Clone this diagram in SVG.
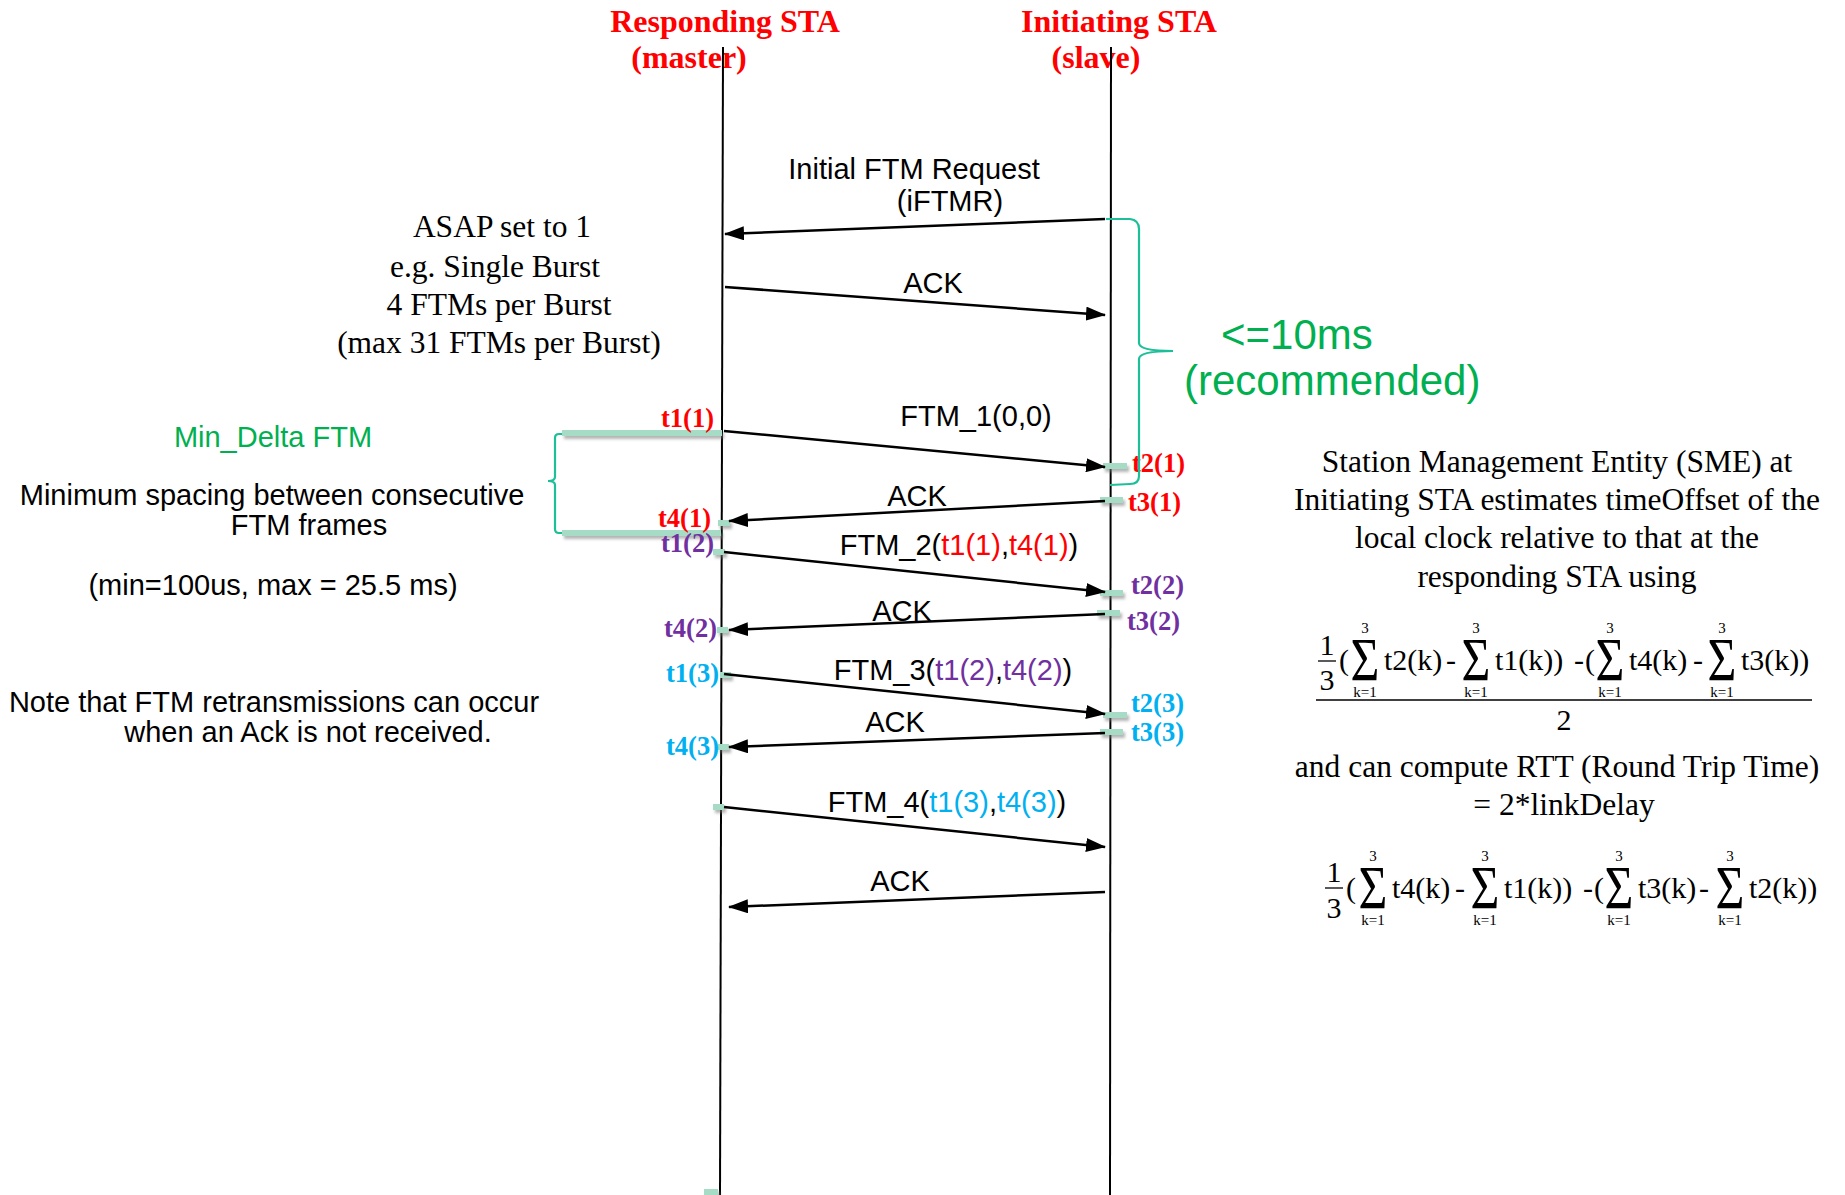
<svg xmlns="http://www.w3.org/2000/svg" width="1845" height="1195" viewBox="0 0 1845 1195">
<defs>
  <marker id="ah" markerUnits="userSpaceOnUse" markerWidth="20" markerHeight="14" refX="19" refY="7" orient="auto">
    <path d="M0,0 L20,7 L0,14 z" fill="#000"/>
  </marker>
  <filter id="sh" filterUnits="userSpaceOnUse" x="0" y="0" width="1845" height="1195">
    <feDropShadow dx="2" dy="3" stdDeviation="1.6" flood-color="#777" flood-opacity="0.55"/>
  </filter>
</defs>
<style>
  .life{stroke:#000;stroke-width:2;fill:none}
  .msg{stroke:#000;stroke-width:2.5;fill:none;marker-end:url(#ah)}
  .lbl{font-family:"Liberation Sans",Arial,sans-serif;font-size:29px;fill:#000}
  .title{font-family:"Liberation Serif","Times New Roman",serif;font-weight:bold;font-size:32px;fill:#FF0000}
  .ts{font-family:"Liberation Serif","Times New Roman",serif;font-weight:bold;font-size:26.5px}
  .ser{font-family:"Liberation Serif","Times New Roman",serif;font-size:31.5px;fill:#000}
  .fm{font-family:"Liberation Serif","DejaVu Serif",serif;font-size:30px;fill:#000}
  .sig{font-family:"Liberation Serif","DejaVu Serif",serif;font-size:62px;fill:#000;text-anchor:middle}
  .sm{font-family:"Liberation Serif","DejaVu Serif",serif;font-size:15px;fill:#000;text-anchor:middle}
  .mark{stroke:#A6DCC6;stroke-width:6;fill:none;filter:url(#sh)}
  .brace{stroke:#1DBF98;stroke-width:2.2;fill:none}
  .grn{fill:#00B050}
  .red{fill:#FF0000}
  .pur{fill:#7030A0}
  .blu{fill:#00B0F0}
  .mid{text-anchor:middle}
  .end{text-anchor:end}
</style>

<g id="responding-sta">
  <text class="title mid" x="725" y="32">Responding STA</text>
  <text class="title mid" x="689" y="68">(master)</text>
  <line class="life" x1="723" y1="47" x2="720" y2="1195"/>
</g>
<g id="initiating-sta">
  <text class="title mid" x="1119" y="32">Initiating STA</text>
  <text class="title mid" x="1096" y="68">(slave)</text>
  <line class="life" x1="1111" y1="47" x2="1110" y2="1195"/>
</g>

<g id="timestamp-marks">
  <line class="mark" x1="562" y1="433" x2="722" y2="433"/>
  <line class="mark" x1="562" y1="533" x2="721" y2="533"/>
  <line class="mark" x1="718" y1="523" x2="730" y2="523"/>
  <line class="mark" x1="713" y1="552" x2="725" y2="552"/>
  <line class="mark" x1="717" y1="630" x2="728" y2="630"/>
  <line class="mark" x1="720" y1="675" x2="731" y2="675"/>
  <line class="mark" x1="718" y1="747" x2="729" y2="747"/>
  <line class="mark" x1="713" y1="807" x2="724" y2="807"/>
  <line class="mark" x1="704" y1="1192" x2="718" y2="1192"/>
  <line class="mark" x1="1103" y1="466" x2="1127" y2="466"/>
  <line class="mark" x1="1100" y1="500" x2="1123" y2="500"/>
  <line class="mark" x1="1100" y1="593" x2="1123" y2="593"/>
  <line class="mark" x1="1097" y1="613" x2="1120" y2="613"/>
  <line class="mark" x1="1103" y1="715" x2="1127" y2="715"/>
  <line class="mark" x1="1100" y1="732" x2="1123" y2="732"/>
</g>

<g id="connectors">
  <line class="msg" x1="1105" y1="219" x2="725" y2="234"/>
  <line class="msg" x1="725" y1="287" x2="1105" y2="315"/>
  <line class="msg" x1="724" y1="431" x2="1105" y2="467"/>
  <line class="msg" x1="1105" y1="501" x2="729" y2="521"/>
  <line class="msg" x1="724" y1="552" x2="1105" y2="592"/>
  <line class="msg" x1="1105" y1="614" x2="729" y2="630"/>
  <line class="msg" x1="724" y1="674" x2="1105" y2="714"/>
  <line class="msg" x1="1105" y1="733" x2="729" y2="747"/>
  <line class="msg" x1="724" y1="807" x2="1105" y2="847"/>
  <line class="msg" x1="1105" y1="892" x2="729" y2="907"/>
</g>

<g id="message-labels">
  <text class="lbl mid" x="914" y="179">Initial FTM Request</text>
  <text class="lbl mid" x="950" y="211">(iFTMR)</text>
  <text class="lbl mid" x="933" y="293">ACK</text>
  <text class="lbl mid" x="976" y="426">FTM_1(0,0)</text>
  <text class="lbl mid" x="917" y="506">ACK</text>
  <text class="lbl mid" x="959" y="555">FTM_2(<tspan class="red">t1(1)</tspan>,<tspan class="red">t4(1)</tspan>)</text>
  <text class="lbl mid" x="902" y="621">ACK</text>
  <text class="lbl mid" x="953" y="680">FTM_3(<tspan class="pur">t1(2)</tspan>,<tspan class="pur">t4(2)</tspan>)</text>
  <text class="lbl mid" x="895" y="732">ACK</text>
  <text class="lbl mid" x="947" y="812">FTM_4(<tspan class="blu">t1(3)</tspan>,<tspan class="blu">t4(3)</tspan>)</text>
  <text class="lbl mid" x="900" y="891">ACK</text>
</g>

<g id="timestamps">
  <text class="ts red end" x="714" y="427">t1(1)</text>
  <text class="ts red end" x="711" y="527">t4(1)</text>
  <text class="ts pur end" x="714" y="552">t1(2)</text>
  <text class="ts pur end" x="717" y="637">t4(2)</text>
  <text class="ts blu end" x="719" y="682">t1(3)</text>
  <text class="ts blu end" x="719" y="755">t4(3)</text>
  <text class="ts red" x="1132" y="472">t2(1)</text>
  <text class="ts red" x="1128" y="511">t3(1)</text>
  <text class="ts pur" x="1131" y="594">t2(2)</text>
  <text class="ts pur" x="1127" y="630">t3(2)</text>
  <text class="ts blu" x="1131" y="712">t2(3)</text>
  <text class="ts blu" x="1131" y="741">t3(3)</text>
</g>

<g id="burst-note">
  <text class="ser mid" x="502" y="237">ASAP set to 1</text>
  <text class="ser mid" x="495" y="277">e.g. Single Burst</text>
  <text class="ser mid" x="499" y="315">4 FTMs per Burst</text>
  <text class="ser mid" x="499" y="353">(max 31 FTMs per Burst)</text>
</g>

<g id="recommended-brace">
  <path class="brace" d="M1106,219 L1130,219 Q1139,220 1139,229 L1139,343 Q1139,351 1173,351 Q1139,351 1139,359 L1139,476 Q1139,484 1130,484 L1110,485"/>
  <text class="lbl grn" style="font-size:42px" x="1221" y="349">&lt;=10ms</text>
  <text class="lbl grn" style="font-size:42px" x="1184" y="395">(recommended)</text>
</g>

<g id="min-delta-note">
  <path class="brace" d="M562,434 L559,434 Q555,434 555,438 L555,477 Q555,481 548,481 Q555,481 555,485 L555,529 Q555,533 559,533 L562,533"/>
  <text class="lbl grn mid" x="273" y="447">Min_Delta FTM</text>
  <text class="lbl mid" x="272" y="505">Minimum spacing between consecutive</text>
  <text class="lbl mid" x="309" y="535">FTM frames</text>
  <text class="lbl mid" x="273" y="595">(min=100us, max = 25.5 ms)</text>
</g>

<g id="retransmission-note">
  <text class="lbl mid" x="274" y="712">Note that FTM retransmissions can occur</text>
  <text class="lbl mid" x="308" y="742">when an Ack is not received.</text>
</g>

<g id="sme-note">
  <text class="ser mid" x="1557" y="472">Station Management Entity (SME) at</text>
  <text class="ser mid" x="1557" y="510">Initiating STA estimates timeOffset of the</text>
  <text class="ser mid" x="1557" y="548">local clock relative to that at the</text>
  <text class="ser mid" x="1557" y="587">responding STA using</text>
</g>

<g id="offset-formula">
  <text class="fm mid" x="1327" y="655">1</text>
  <line x1="1318" y1="661" x2="1336" y2="661" stroke="#000" stroke-width="1.3"/>
  <text class="fm mid" x="1327" y="690">3</text>
  <text class="fm" x="1339" y="670">(</text>
  <text class="sig" transform="translate(1365,680) scale(0.8,1)">Σ</text><text class="sm" x="1365" y="633">3</text><text class="sm" x="1365" y="697">k=1</text>
  <text class="fm" x="1384" y="670">t2(k)</text>
  <text class="fm" x="1446" y="670">-</text>
  <text class="sig" transform="translate(1476,680) scale(0.8,1)">Σ</text><text class="sm" x="1476" y="633">3</text><text class="sm" x="1476" y="697">k=1</text>
  <text class="fm" x="1495" y="670">t1(k))</text>
  <text class="fm" x="1574" y="670">-</text>
  <text class="fm" x="1585" y="670">(</text>
  <text class="sig" transform="translate(1610,680) scale(0.8,1)">Σ</text><text class="sm" x="1610" y="633">3</text><text class="sm" x="1610" y="697">k=1</text>
  <text class="fm" x="1629" y="670">t4(k)</text>
  <text class="fm" x="1693" y="670">-</text>
  <text class="sig" transform="translate(1722,680) scale(0.8,1)">Σ</text><text class="sm" x="1722" y="633">3</text><text class="sm" x="1722" y="697">k=1</text>
  <text class="fm" x="1741" y="670">t3(k))</text>
  <line x1="1316" y1="700" x2="1812" y2="700" stroke="#000" stroke-width="1.5"/>
  <text class="fm mid" x="1564" y="730">2</text>
</g>

<g id="rtt-note">
  <text class="ser mid" x="1557" y="777">and can compute RTT (Round Trip Time)</text>
  <text class="ser mid" x="1564" y="815">= 2*linkDelay</text>
</g>

<g id="rtt-formula">
  <text class="fm mid" x="1334" y="882">1</text>
  <line x1="1325" y1="888" x2="1343" y2="888" stroke="#000" stroke-width="1.3"/>
  <text class="fm mid" x="1334" y="918">3</text>
  <text class="fm" x="1346" y="898">(</text>
  <text class="sig" transform="translate(1373,908) scale(0.8,1)">Σ</text><text class="sm" x="1373" y="861">3</text><text class="sm" x="1373" y="925">k=1</text>
  <text class="fm" x="1392" y="898">t4(k)</text>
  <text class="fm" x="1455" y="898">-</text>
  <text class="sig" transform="translate(1485,908) scale(0.8,1)">Σ</text><text class="sm" x="1485" y="861">3</text><text class="sm" x="1485" y="925">k=1</text>
  <text class="fm" x="1504" y="898">t1(k))</text>
  <text class="fm" x="1583" y="898">-</text>
  <text class="fm" x="1594" y="898">(</text>
  <text class="sig" transform="translate(1619,908) scale(0.8,1)">Σ</text><text class="sm" x="1619" y="861">3</text><text class="sm" x="1619" y="925">k=1</text>
  <text class="fm" x="1638" y="898">t3(k)</text>
  <text class="fm" x="1699" y="898">-</text>
  <text class="sig" transform="translate(1730,908) scale(0.8,1)">Σ</text><text class="sm" x="1730" y="861">3</text><text class="sm" x="1730" y="925">k=1</text>
  <text class="fm" x="1749" y="898">t2(k))</text>
</g>
</svg>
